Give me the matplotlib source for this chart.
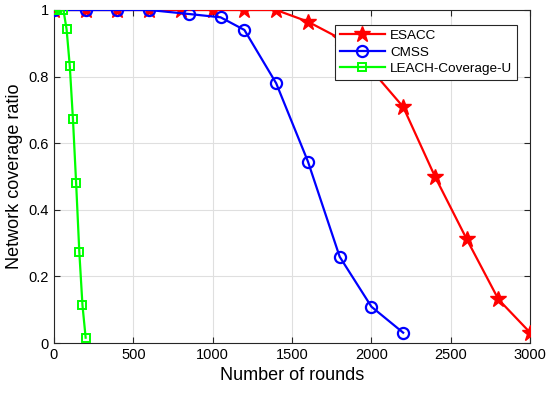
import matplotlib
matplotlib.use("Agg")
import matplotlib.pyplot as plt

plt.rcParams['font.family'] = ['Liberation Sans', 'DejaVu Sans']

esacc_x = [0, 200, 400, 600, 800, 1000, 1200, 1400, 1600, 1800, 2000, 2200, 2400, 2600, 2800, 3000]
esacc_y = [1, 1, 1, 1, 1, 1, 1, 1, 0.965, 0.915, 0.82, 0.709, 0.50, 0.312, 0.131, 0.031]

cmss_x = [0, 200, 400, 600, 850, 1050, 1200, 1400, 1600, 1800, 2000, 2200]
cmss_y = [1, 1, 1, 1, 0.988, 0.978, 0.94, 0.78, 0.545, 0.259, 0.109, 0.031]

leach_x = [0, 20, 40, 60, 80, 100, 120, 140, 160, 180, 200]
leach_y = [1, 1, 1, 1, 0.942, 0.832, 0.672, 0.48, 0.274, 0.113, 0.016]

xticks = [0, 500, 1000, 1500, 2000, 2500, 3000]
yticks = [0, 0.2, 0.4, 0.6, 0.8, 1]
ytick_labels = ['0', '0.2', '0.4', '0.6', '0.8', '1']

fig = plt.figure(figsize=(5.5, 3.95), dpi=100)
ax = fig.add_axes([0.098, 0.1316, 0.866, 0.8431])

ax.plot(esacc_x, esacc_y, color=(1, 0, 0), lw=1.6, marker='*', ms=12,
        mfc=(1, 0, 0), mec=(1, 0, 0), label='ESACC', zorder=3)
ax.plot(cmss_x, cmss_y, color=(0, 0, 1), lw=1.6, marker='o', ms=8,
        mfc='none', mec=(0, 0, 1), mew=1.6, label='CMSS', zorder=4)
ax.plot(leach_x, leach_y, color=(0, 1, 0), lw=1.6, marker='s', ms=5.5,
        mfc='none', mec=(0, 1, 0), mew=1.4, label='LEACH-Coverage-U', zorder=5)

ax.set_xlim(0, 3000)
ax.set_ylim(0, 1)
ax.set_xticks(xticks)
ax.set_yticks(yticks)
ax.set_yticklabels(ytick_labels)
ax.grid(True, color='#dfdfdf', lw=0.8)
ax.set_axisbelow(True)
ax.tick_params(direction='in', length=4, labelsize=10.5, colors='#262626',
               top=True, right=True, labelcolor='black')
for s in ax.spines.values():
    s.set_color('#262626')
    s.set_linewidth(0.8)

ax.set_xlabel('Number of rounds', fontsize=13, labelpad=4)
ax.set_ylabel('Network coverage ratio', fontsize=13, labelpad=4)

leg = ax.legend(loc='upper right', bbox_to_anchor=(0.972, 0.955), fontsize=9.7,
                frameon=True, fancybox=False, framealpha=1, edgecolor='#262626',
                handlelength=3.4, borderpad=0.35, labelspacing=0.3, handletextpad=0.35,
                borderaxespad=0)
leg.get_frame().set_linewidth(0.8)

fig.savefig('out.png', dpi=100)
